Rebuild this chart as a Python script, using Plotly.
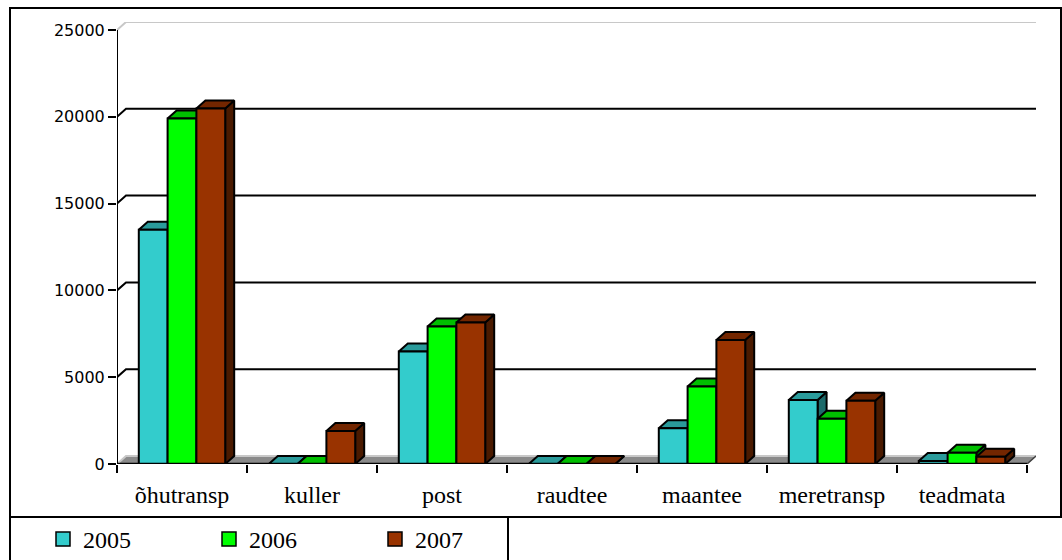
import plotly.graph_objects as go

# ---------------- data ----------------
categories = ["õhutransp", "kuller", "post", "raudtee", "maantee", "meretransp", "teadmata"]
years = ["2005", "2006", "2007"]
values_2005 = [13500, 0, 6480, 0, 2060, 3690, 170]
values_2006 = [19900, 0, 7920, 0, 4460, 2600, 650]
values_2007 = [20480, 1900, 8150, 0, 7150, 3650, 420]
y_ticks = [0, 5000, 10000, 15000, 20000, 25000]
y_tick_labels = ["0", "5000", "10000", "15000", "20000", "25000"]

series = [values_2005, values_2006, values_2007]
front_colors = ["#33CCCC", "#00FF00", "#993300"]
top_colors = ["#2A9B9B", "#00BF00", "#732600"]
side_colors = ["#1C6A6A", "#008000", "#4A1A00"]

# ---------------- geometry (pixels -> data) ----------------
W, H = 1062, 560
ML, MT = 117, 22
PX_PER_CAT = 130.0
DX_PX, DY_PX = 9.0, 8.0
YMAX = 25000
PX_PER_UNIT_Y = 86.8 / 5000.0
DX = DX_PX / PX_PER_CAT
DY = DY_PX / PX_PER_UNIT_Y
ncat = len(categories)
x_lo, x_hi = -0.5, ncat - 0.5
plot_w = (x_hi + DX - x_lo) * PX_PER_CAT
plot_h = (YMAX + DY) * PX_PER_UNIT_Y
MR = W - ML - plot_w
MB = H - MT - plot_h
BW = 28.8 / PX_PER_CAT

fig = go.Figure()


def poly_trace(xs, ys, fill, line_color="black", width=2):
    fig.add_trace(go.Scatter(x=xs, y=ys, mode="lines", fill="toself" if fill else None,
                             fillcolor=fill, line=dict(color=line_color, width=width),
                             hoverinfo="skip", showlegend=False))


def line_trace(xs, ys, color, width):
    fig.add_trace(go.Scatter(x=xs, y=ys, mode="lines", line=dict(color=color, width=width),
                             hoverinfo="skip", showlegend=False))


# floor
poly_trace([x_lo, x_hi, x_hi + DX, x_lo + DX, x_lo], [0, 0, DY, DY, 0], "#8A8A8A", "#8A8A8A", 1)
line_trace([x_lo, x_lo + DX, x_hi + DX], [0, DY, DY], "#C8C8C8", 2)
line_trace([x_hi, x_hi + DX], [0, DY], "#404040", 1.5)

# back-wall gridlines with left-wall connectors
for v in y_ticks[1:]:
    col = "#C8C8C8" if v == YMAX else "black"
    line_trace([x_lo, x_lo + DX, x_hi + DX], [v, v + DY, v + DY], col, 2)

# bars: side, top, front for each series, left to right
for s, vals in enumerate(series):
    fx, fy, tx, ty, sx, sy = [], [], [], [], [], []
    for i, h in enumerate(vals):
        xl = i + (s - 1.5) * BW
        xr = xl + BW
        sx += [xr, xr, xr + DX, xr + DX, xr, None]
        sy += [0, h, h + DY, DY, 0, None]
        tx += [xl, xr, xr + DX, xl + DX, xl, None]
        ty += [h, h, h + DY, h + DY, h, None]
        fx += [xl, xr, xr, xl, xl, None]
        fy += [0, 0, h, h, 0, None]
    poly_trace(sx, sy, side_colors[s])
    poly_trace(tx, ty, top_colors[s])
    poly_trace(fx, fy, front_colors[s])

# front axis lines
line_trace([x_lo, x_lo], [0, YMAX], "black", 2)
line_trace([x_lo, x_hi], [0, 0], "black", 2.5)

# legend entries
for s, yr in enumerate(years):
    fig.add_trace(go.Scatter(x=[None], y=[None], mode="markers", name=yr,
                             marker=dict(symbol="square", size=14, color=front_colors[s],
                                         line=dict(color="black", width=1.5))))

fig.update_layout(
    width=W, height=H,
    margin=dict(l=ML, r=MR, t=MT, b=MB, autoexpand=False),
    paper_bgcolor="white", plot_bgcolor="white",
    showlegend=True,
    legend=dict(orientation="h", xref="container", yref="container",
                x=43 / W, y=1 - 517 / H, xanchor="left", yanchor="top",
                entrywidth=121, entrywidthmode="pixels",
                font=dict(family="Liberation Serif", size=24, color="black"),
                bgcolor="rgba(0,0,0,0)", borderwidth=0),
    xaxis=dict(range=[x_lo, x_hi + DX], showgrid=False, zeroline=False, showline=False,
               tickvals=list(range(ncat)), ticktext=categories, ticks="",
               tickfont=dict(family="Liberation Serif", size=24, color="black"),
               ticklabelstandoff=14,
               minor=dict(tickvals=[x_lo + k for k in range(ncat + 1)], ticks="outside",
                          ticklen=8, tickwidth=2, tickcolor="black", showgrid=False)),
    yaxis=dict(range=[0, YMAX + DY], showgrid=False, zeroline=False, showline=False,
               tickvals=y_ticks, ticktext=y_tick_labels, ticks="outside", ticklen=8,
               tickwidth=2, tickcolor="black",
               tickfont=dict(family="DejaVu Sans", size=16, color="black")),
)

# chart border and legend box (paper coordinates of the plot area)
def px_x(px):
    return (px - ML) / plot_w


def px_y(py):
    return (MT + plot_h - py) / plot_h


fig.add_shape(type="rect", xref="paper", yref="paper",
              x0=px_x(10), x1=px_x(1061), y0=px_y(517), y1=px_y(8),
              line=dict(color="black", width=2), fillcolor="rgba(0,0,0,0)", layer="above")
fig.add_shape(type="rect", xref="paper", yref="paper",
              x0=px_x(10), x1=px_x(508), y0=px_y(565), y1=px_y(517),
              line=dict(color="black", width=2), fillcolor="rgba(0,0,0,0)", layer="above")

fig.write_html("out.html", config={"displayModeBar": False},
               post_script="document.body.style.margin='0';document.body.style.padding='0';")
